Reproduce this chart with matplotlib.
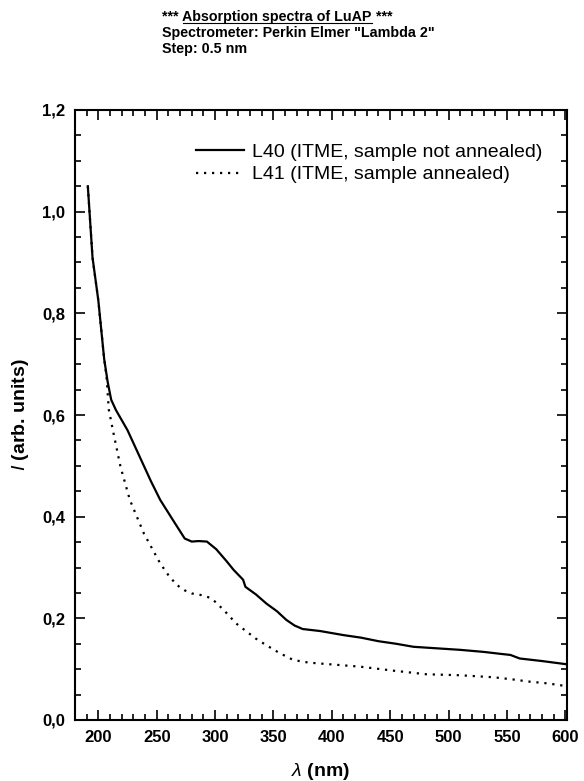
import matplotlib
matplotlib.use("Agg")
import matplotlib.pyplot as plt
from matplotlib.ticker import MultipleLocator, FuncFormatter
from matplotlib.lines import Line2D

plt.rcParams['font.family'] = ['Liberation Sans', 'DejaVu Sans']
plt.rcParams['mathtext.fontset'] = 'custom'
plt.rcParams['mathtext.it'] = 'Liberation Sans:italic'
plt.rcParams['mathtext.rm'] = 'Liberation Sans'

# ---- data ----
wl_L40 = [191, 195, 200, 205, 208, 211, 215, 220, 225, 235, 245, 253, 264, 274, 280,
          286, 293, 301, 310, 316, 324, 326, 335, 344, 353, 361, 368, 375, 390, 410,
          425, 440, 455, 470, 490, 510, 530, 545, 553, 561, 580, 600]
I_L40 = [1.05, 0.91, 0.825, 0.71, 0.665, 0.63, 0.61, 0.59, 0.57, 0.52, 0.47, 0.433,
         0.393, 0.357, 0.351, 0.352, 0.351, 0.336, 0.312, 0.295, 0.276, 0.262, 0.247,
         0.229, 0.214, 0.197, 0.186, 0.179, 0.175, 0.167, 0.162, 0.155, 0.150, 0.144,
         0.141, 0.138, 0.134, 0.130, 0.128, 0.121, 0.116, 0.110]

wl_L41 = [191, 195, 200, 205, 207, 209, 213, 219, 227, 239, 253, 260, 267, 274, 280,
          290, 296, 301, 310, 318, 327, 335, 344, 355, 367, 380, 396, 424, 453, 481,
          510, 539, 558, 567, 585, 600]
I_L41 = [1.05, 0.91, 0.825, 0.71, 0.675, 0.61, 0.564, 0.498, 0.433, 0.367, 0.308, 0.285,
         0.266, 0.255, 0.249, 0.245, 0.240, 0.231, 0.210, 0.190, 0.174, 0.160, 0.147,
         0.132, 0.118, 0.113, 0.110, 0.105, 0.097, 0.090, 0.088, 0.084, 0.079, 0.076,
         0.072, 0.067]

labels = ["L40 (ITME, sample not annealed)", "L41 (ITME, sample annealed)"]
header_pre = "*** "
header_ul = "Absorption spectra of LuAP"
header_post = " ***"
header_lines = ['Spectrometer: Perkin Elmer "Lambda 2"', "Step: 0.5 nm"]

W, H = 584, 781
fig = plt.figure(figsize=(W / 100, H / 100), dpi=100)
ax = fig.add_axes([75 / W, 1 - 720 / H, (567 - 75) / W, (720 - 110) / H])

ax.plot(wl_L40, I_L40, color='black', lw=1.6, label=labels[0])
ax.plot(wl_L41, I_L41, color='black', lw=1.6, linestyle=(0, (1, 2.6)), label=labels[1])

ax.set_xlim(180, 601.5)
ax.set_ylim(0, 1.2)
ax.xaxis.set_major_locator(MultipleLocator(50))
ax.xaxis.set_minor_locator(MultipleLocator(10))
ax.yaxis.set_major_locator(MultipleLocator(0.2))
ax.yaxis.set_minor_locator(MultipleLocator(0.05))
ax.yaxis.set_major_formatter(FuncFormatter(lambda v, p: f"{v:.1f}".replace('.', ',')))
ax.tick_params(which='both', direction='in', top=True, right=True, width=1.2)
ax.tick_params(which='major', length=7, labelsize=12, pad=7)
ax.tick_params(which='minor', length=4)
for lab in ax.get_xticklabels() + ax.get_yticklabels():
    lab.set_fontweight('bold')
for s in ax.spines.values():
    s.set_linewidth(1.5)

ax.set_xlabel(r"$\mathit{\lambda}$ (nm)", fontsize=14, fontweight='bold', labelpad=12)
ax.set_ylabel(r"$\mathit{I}$ (arb. units)", fontsize=14, fontweight='bold', labelpad=8)

leg = ax.legend(loc='upper right', bbox_to_anchor=(0.965, 0.958), frameon=False,
                fontsize=14, handlelength=2.45, handletextpad=0.4, labelspacing=0.25,
                borderaxespad=0)

# header text
fs = 10.3
t1 = fig.text(162 / W, 1 - 17 / H, header_pre, fontsize=fs, fontweight='bold', va='center')
fig.canvas.draw()
r = fig.canvas.get_renderer()
bb = t1.get_window_extent(r)
t2 = fig.text(bb.x1 / W, 1 - 17 / H, header_ul, fontsize=fs, fontweight='bold', va='center')
fig.canvas.draw()
bb2 = t2.get_window_extent(r)
t3 = fig.text(bb2.x1 / W, 1 - 17 / H, header_post, fontsize=fs, fontweight='bold', va='center')
uy = (bb2.y0 + 1) / H
fig.add_artist(Line2D([bb2.x0 / W, bb2.x1 / W], [uy, uy], color='black', lw=0.8,
                      transform=fig.transFigure))
for i, line in enumerate(header_lines):
    fig.text(162 / W, 1 - (33 + 16 * i) / H, line, fontsize=fs, fontweight='bold', va='center')

fig.savefig("out.png", dpi=100)
